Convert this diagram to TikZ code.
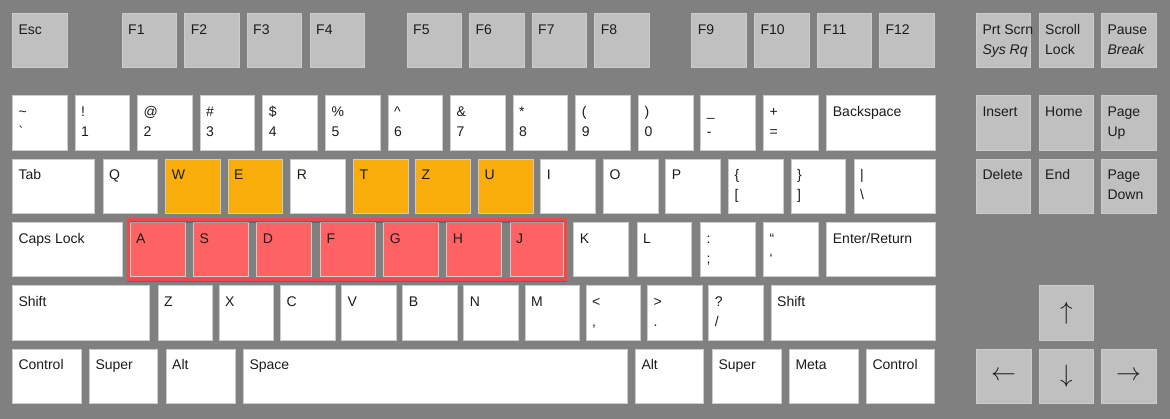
\documentclass[tikz,border=0pt]{standalone}
\usepackage{fontspec}
\newfontfamily\kf{Liberation Sans}
\definecolor{bgc}{HTML}{808080}
\definecolor{keygrey}{HTML}{C0C0C0}
\definecolor{keyedge}{HTML}{CCCCCC}
\definecolor{keyorange}{HTML}{F8AD0B}
\definecolor{keyred}{HTML}{FF6262}
\definecolor{boxred}{HTML}{EE4848}
\definecolor{textc}{HTML}{1C1C1C}
\tikzset{
  key/.style={draw=keyedge, line width=0.8pt, inner sep=0pt, outer sep=0pt,
    minimum height=54.4pt, anchor=north west},
  wkey/.style={key, fill=white},
  gkey/.style={key, fill=keygrey},
  okey/.style={key, fill=keyorange},
  rkey/.style={key, fill=keyred},
  lbl/.style={anchor=base west, inner sep=0pt, xshift=6pt,
    font=\kf\fontsize{14}{16}\selectfont, text=textc},
  arrowkey/.style={gkey, minimum width=54.7pt,
    font=\fontsize{27}{27}\selectfont, text=textc},
}
% one-line key: name, style, position, width, text
\newcommand{\ka}[5]{\node[#2, minimum width=#4pt,
  label={[lbl, yshift=-21pt]north west:{#5}}] (#1) at (#3) {};}
% two-line key: name, style, position, width, line 1, line 2
\newcommand{\kb}[6]{\node[#2, minimum width=#4pt,
  label={[lbl, yshift=-21pt]north west:{#5}},
  label={[lbl, yshift=-41pt]north west:{#6}}] (#1) at (#3) {};}
\begin{document}
\begin{tikzpicture}[x=1pt, y=-1pt]
\fill[bgc] (0,0) rectangle (1170,419);
\useasboundingbox (0,0) rectangle (1170,419);

% function row
\ka{esc}{gkey}{12.3,13.3}{54.7}{Esc}
\ka{fone}{gkey}{122,13.3}{54.7}{F1}
\ka{ftwo}{gkey}{184.7,13.3}{54.7}{F2}
\ka{fthree}{gkey}{247,13.3}{54.7}{F3}
\ka{ffour}{gkey}{310,13.3}{54.7}{F4}
\ka{ffive}{gkey}{407,13.3}{54.7}{F5}
\ka{fsix}{gkey}{469.3,13.3}{54.7}{F6}
\ka{fseven}{gkey}{532,13.3}{54.7}{F7}
\ka{feight}{gkey}{594.7,13.3}{54.7}{F8}
\ka{fnine}{gkey}{691.7,13.3}{54.7}{F9}
\ka{ften}{gkey}{754.3,13.3}{54.7}{F10}
\ka{feleven}{gkey}{817,13.3}{54.7}{F11}
\ka{ftwelve}{gkey}{879.3,13.3}{54.7}{F12}
\kb{prt}{gkey}{976.3,13.3}{54.5}{Prt Scrn}{\itshape Sys Rq}
\kb{scroll}{gkey}{1039,13.3}{54.7}{Scroll}{Lock}
\kb{pause}{gkey}{1101.3,13.3}{54.7}{Pause}{\itshape Break}

% number row
\kb{tilde}{wkey}{12.3,95.7}{54.7}{\textasciitilde}{\textasciigrave}
\kb{one}{wkey}{75,95.7}{54.7}{!}{1}
\kb{two}{wkey}{137.3,95.7}{54.7}{@}{2}
\kb{three}{wkey}{200,95.7}{54.7}{\#}{3}
\kb{four}{wkey}{262.7,95.7}{54.7}{\$}{4}
\kb{five}{wkey}{325.3,95.7}{54.7}{\%}{5}
\kb{six}{wkey}{388,95.7}{54.7}{\textasciicircum}{6}
\kb{seven}{wkey}{450.3,95.7}{54.7}{\&}{7}
\kb{eight}{wkey}{513,95.7}{54.7}{*}{8}
\kb{nine}{wkey}{575.7,95.7}{54.7}{(}{9}
\kb{zero}{wkey}{638.3,95.7}{54.7}{)}{0}
\kb{minus}{wkey}{700.7,95.7}{54.7}{\_}{-}
\kb{plus}{wkey}{763.3,95.7}{54.7}{+}{=}
\ka{bksp}{wkey}{826.7,95.7}{109}{Backspace}
\ka{ins}{gkey}{976.3,95.7}{54.5}{Insert}
\ka{home}{gkey}{1039,95.7}{54.7}{Home}
\kb{pgup}{gkey}{1101.3,95.7}{54.7}{Page}{Up}

% tab row
\ka{tab}{wkey}{12.3,159}{82}{Tab}
\ka{q}{wkey}{103,159}{54.7}{Q}
\ka{w}{okey}{165.7,159}{54.7}{W}
\ka{e}{okey}{228,159}{54.7}{E}
\ka{r}{wkey}{290.7,159}{54.7}{R}
\ka{t}{okey}{353.3,159}{54.7}{T}
\ka{zt}{okey}{415.3,159}{54.7}{Z}
\ka{u}{okey}{478.3,159}{54.7}{U}
\ka{i}{wkey}{540.7,159}{54.7}{I}
\ka{o}{wkey}{603.3,159}{54.7}{O}
\ka{p}{wkey}{665.7,159}{54.7}{P}
\kb{lbrack}{wkey}{728.3,159}{54.7}{\{}{[}
\kb{rbrack}{wkey}{791,159}{54.7}{\}}{]}
\kb{pipe}{wkey}{854,159}{81.7}{|}{\textbackslash}
\ka{del}{gkey}{976.3,159}{54.5}{Delete}
\ka{kend}{gkey}{1039,159}{54.7}{End}
\kb{pgdn}{gkey}{1101.3,159}{54.7}{Page}{Down}

% home row
\ka{caps}{wkey}{12.3,222.3}{109.7}{Caps Lock}
\ka{a}{rkey}{130,222.3}{55}{A}
\ka{s}{rkey}{193.3,222.3}{55}{S}
\ka{d}{rkey}{256.7,222.3}{55}{D}
\ka{f}{rkey}{320.3,222.3}{55}{F}
\ka{g}{rkey}{383.6,222.3}{54.7}{G}
\ka{h}{rkey}{446.7,222.3}{55}{H}
\ka{j}{rkey}{510,222.3}{53.3}{J}
\ka{k}{wkey}{573.7,222.3}{54.6}{K}
\ka{l}{wkey}{637,222.3}{54.7}{L}
\kb{colon}{wkey}{700.3,222.3}{54.7}{:}{;}
\kb{quote}{wkey}{763.3,222.3}{54.7}{“}{‘}
\ka{enter}{wkey}{826.7,222.3}{109}{Enter/Return}

% shift row
\ka{lshift}{wkey}{12.3,285.7}{137}{Shift}
\ka{zb}{wkey}{158,285.7}{54.7}{Z}
\ka{x}{wkey}{219,285.7}{54.7}{X}
\ka{c}{wkey}{280.3,285.7}{54.7}{C}
\ka{v}{wkey}{341.3,285.7}{54.7}{V}
\ka{b}{wkey}{402.7,285.7}{54.7}{B}
\ka{n}{wkey}{463.7,285.7}{54.7}{N}
\ka{m}{wkey}{525,285.7}{54.7}{M}
\kb{comma}{wkey}{586,285.7}{54.7}{<}{,}
\kb{period}{wkey}{647.3,285.7}{54.7}{>}{.}
\kb{slash}{wkey}{708.7,285.7}{54.7}{?}{/}
\ka{rshift}{wkey}{771,285.7}{164.7}{Shift}
\node[arrowkey] (kup) at (1039,285.7) {$\uparrow$};

% bottom row
\ka{lctrl}{wkey}{12.3,349}{68.7}{Control}
\ka{lsuper}{wkey}{89.3,349}{68.4}{Super}
\ka{lalt}{wkey}{166,349}{69}{Alt}
\ka{space}{wkey}{243.3,349}{383.7}{Space}
\ka{ralt}{wkey}{635.3,349}{68.4}{Alt}
\ka{rsuper}{wkey}{712.3,349}{68.7}{Super}
\ka{meta}{wkey}{789.3,349}{68.7}{Meta}
\ka{rctrl}{wkey}{866.3,349}{68.4}{Control}
\node[arrowkey] (kleft) at (976.3,349) {$\leftarrow$};
\node[arrowkey] (kdown) at (1039,349) {$\downarrow$};
\node[arrowkey] (kright) at (1101.3,349) {$\rightarrow$};

% highlight box round the home-row keys
\draw[black, opacity=0.2, line width=3pt]
  ([shift={(-1.2,-1)}]a.north west) rectangle ([shift={(2.6,4)}]j.south east);
\draw[boxred, line width=3pt]
  ([shift={(-1.8,-2.5)}]a.north west) rectangle ([shift={(1.9,2.5)}]j.south east);
\end{tikzpicture}
\end{document}
